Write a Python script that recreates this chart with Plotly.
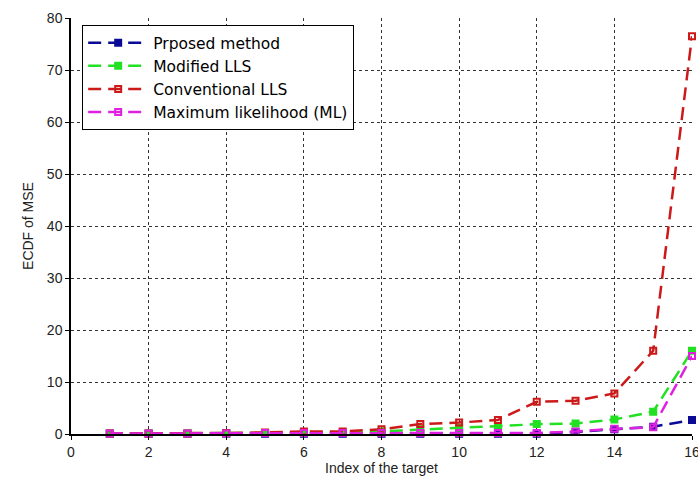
import plotly.graph_objects as go

# Target index on the x axis
target_index = list(range(1, 17))

# ECDF of MSE for each localisation method
proposed = [0.05, 0.05, 0.05, 0.05, 0.05, 0.05, 0.05, 0.05, 0.05, 0.05, 0.05, 0.05, 0.4, 0.9, 1.4, 2.7]
modified_lls = [0.1, 0.1, 0.1, 0.1, 0.2, 0.3, 0.3, 0.5, 0.9, 1.2, 1.5, 1.9, 2.0, 2.8, 4.3, 16.0]
conventional_lls = [0.1, 0.1, 0.1, 0.2, 0.3, 0.5, 0.5, 0.9, 1.9, 2.2, 2.7, 6.2, 6.4, 7.8, 16.0, 76.5]
max_likelihood = [0.1, 0.1, 0.1, 0.1, 0.2, 0.2, 0.2, 0.2, 0.2, 0.2, 0.2, 0.2, 0.5, 1.0, 1.3, 15.0]

series_names = ["Prposed method", "Modified LLS", "Conventional LLS", "Maximum likelihood (ML)"]
x_ticks = [0, 2, 4, 6, 8, 10, 12, 14, 16]
y_ticks = [0, 10, 20, 30, 40, 50, 60, 70, 80]

styles = [
    ("#0a0a96", "square"),
    ("#22e022", "square"),
    ("#cc1a1a", "square-open"),
    ("#e020e0", "square-open"),
]

fig = go.Figure()
for name, values, (color, symbol) in zip(
    series_names, [proposed, modified_lls, conventional_lls, max_likelihood], styles
):
    fig.add_trace(go.Scatter(
        x=target_index, y=values, name=name, mode="lines+markers",
        line=dict(color=color, width=2.5, dash="13px,7px"),
        marker=dict(symbol=symbol, size=6, color=color, line=dict(color=color, width=2)),
        cliponaxis=False,
    ))

axis_font = dict(family="Liberation Sans Narrow, Liberation Sans, Arial", size=14, color="#222222")

fig.update_layout(
    width=698, height=479,
    margin=dict(l=71, r=6, t=18, b=45, autoexpand=False),
    paper_bgcolor="white", plot_bgcolor="white",
    font=axis_font,
    showlegend=True,
    legend=dict(
        x=0.018, y=0.983, xanchor="left", yanchor="top",
        bgcolor="white", bordercolor="black", borderwidth=1,
        font=dict(family="DejaVu Sans, Liberation Sans, Arial", size=15.5, color="black"),
        tracegroupgap=0, itemwidth=60,
    ),
    xaxis=dict(
        range=[0, 16], tickvals=x_ticks, ticktext=[str(t) for t in x_ticks],
        showgrid=True, gridcolor="#333333", griddash="dot", gridwidth=1,
        showline=True, linecolor="black", linewidth=1.5,
        ticks="outside", ticklen=4, tickcolor="black",
        ticklabeloverflow="allow", automargin=False,
        zeroline=False, mirror=False,
        title=dict(text="Index of the target", standoff=4, font=axis_font),
    ),
    yaxis=dict(
        range=[0, 80], tickvals=y_ticks, ticktext=[str(t) for t in y_ticks],
        showgrid=True, gridcolor="#333333", griddash="dot", gridwidth=1,
        showline=True, linecolor="black", linewidth=1.5,
        ticks="outside", ticklen=4, tickcolor="black",
        automargin=False,
        zeroline=False, mirror=False,
        title=dict(text="ECDF of MSE", standoff=10, font=axis_font),
    ),
)

fig.write_html("out.html")
